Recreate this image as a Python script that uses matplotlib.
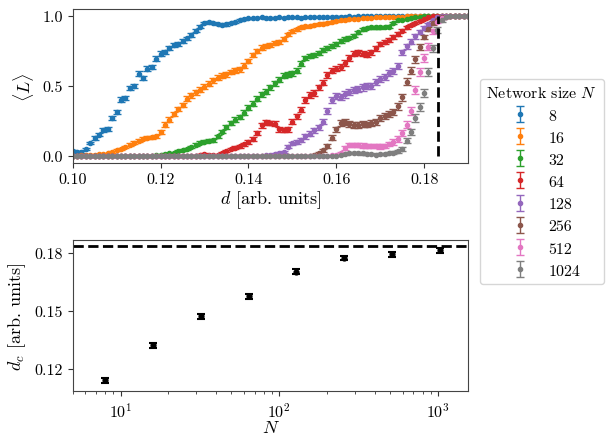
import numpy as np
import matplotlib
matplotlib.use("Agg")
import matplotlib.pyplot as plt

plt.rcParams.update({
    "font.family": "serif",
    "font.serif": ["cmr10", "DejaVu Serif"],
    "mathtext.fontset": "cm",
    "axes.formatter.use_mathtext": True,
    "font.size": 11,
    "axes.labelsize": 13,
    "xtick.labelsize": 11.5,
    "ytick.labelsize": 11.5,
    "legend.fontsize": 11.5,
    "legend.title_fontsize": 11.5,
    "axes.edgecolor": "#444444",
    "xtick.color": "#333333",
    "ytick.color": "#333333",
    "xtick.labelcolor": "black",
    "ytick.labelcolor": "black",
})

# ---------------- data ----------------
d = np.round(np.arange(0.100, 0.1905, 0.001), 3)   # 91 grid points

sizes = [8, 16, 32, 64, 128, 256, 512, 1024]
colors = ["tab:blue", "tab:orange", "tab:green", "tab:red",
          "tab:purple", "tab:brown", "tab:pink", "tab:gray"]

L8 = [0.035, 0.028, 0.030, 0.052, 0.093, 0.128, 0.152, 0.183, 0.195, 0.271, 0.314,
      0.402, 0.414, 0.486, 0.500, 0.588, 0.557, 0.624, 0.636, 0.695, 0.731,
      0.745, 0.770, 0.795, 0.800, 0.820, 0.840, 0.865, 0.895, 0.925, 0.950,
      0.958, 0.952, 0.945, 0.936, 0.940, 0.950, 0.960, 0.970, 0.978, 0.983,
      0.985, 0.987, 0.990, 0.985, 0.983, 0.988, 0.990, 0.988, 0.990, 0.992,
      0.990, 0.988, 0.990, 0.993, 0.995, 0.993, 0.990, 0.993, 0.995, 0.995,
      0.996, 0.995, 0.997, 0.996, 0.997, 0.998, 0.998, 0.999, 0.998, 0.999,
      0.999] + [1.0] * 19
L16 = [0.0, 0.003, 0.005, 0.005, 0.008, 0.010, 0.012, 0.015, 0.020, 0.030, 0.040,
       0.050, 0.065, 0.080, 0.095, 0.110, 0.125, 0.130, 0.133, 0.140, 0.170,
       0.225, 0.260, 0.300, 0.335, 0.365, 0.410, 0.435, 0.455, 0.475, 0.495,
       0.515, 0.540, 0.560, 0.572, 0.585, 0.600, 0.612, 0.620, 0.645, 0.680,
       0.720, 0.750, 0.775, 0.785, 0.790, 0.805, 0.815, 0.835, 0.870, 0.890,
       0.905, 0.918, 0.926, 0.930, 0.936, 0.942, 0.946, 0.950, 0.957, 0.963,
       0.968, 0.972, 0.976, 0.980, 0.982, 0.984, 0.986, 0.988, 0.990, 0.990,
       0.992, 0.993, 0.994, 0.995, 0.996, 0.997, 0.998, 0.999] + [1.0] * 12
L32 = [0.0] * 19 + \
      [0.005, 0.010, 0.015, 0.020, 0.025, 0.035, 0.040, 0.050, 0.065, 0.080, 0.095, 0.102,
       0.108, 0.112, 0.140, 0.175, 0.210, 0.235, 0.260, 0.280, 0.310, 0.345,
       0.375, 0.410, 0.440, 0.460, 0.490, 0.520, 0.545, 0.575, 0.585, 0.590,
       0.610, 0.660, 0.700, 0.715, 0.720, 0.735, 0.755, 0.770, 0.785, 0.800,
       0.820, 0.835, 0.845, 0.860, 0.885, 0.905, 0.915, 0.918, 0.918, 0.920,
       0.922, 0.925, 0.950, 0.970, 0.975, 0.978, 0.985, 0.990, 0.995] + [1.0] * 11
L64 = [0.0] * 29 + \
      [0.010, 0.015, 0.010, 0.005, 0.010, 0.020, 0.035, 0.050, 0.060, 0.070, 0.085, 0.100,
       0.120, 0.165, 0.220, 0.240, 0.235, 0.230, 0.190, 0.185, 0.190, 0.245,
       0.285, 0.330, 0.400, 0.435, 0.450, 0.490, 0.525, 0.580, 0.610, 0.625,
       0.635, 0.665, 0.700, 0.730, 0.740, 0.730, 0.725, 0.740, 0.770, 0.800,
       0.815, 0.830, 0.850, 0.870, 0.895, 0.920, 0.935, 0.950, 0.965, 0.980, 0.990] + [1.0] * 9
L128 = [0.0] * 44 + \
       [0.005, 0.010, 0.015, 0.020, 0.030, 0.065, 0.090,
        0.098, 0.115, 0.140, 0.160, 0.185, 0.205, 0.245, 0.320, 0.400, 0.430,
        0.420, 0.440, 0.455, 0.470, 0.480, 0.490, 0.498, 0.500, 0.530, 0.550,
        0.565, 0.590, 0.610, 0.640, 0.740, 0.785, 0.815, 0.855, 0.885, 0.915,
        0.940, 0.970, 0.990] + [1.0] * 7
L256 = [0.0] * 55 + \
       [0.010, 0.020, 0.040, 0.070, 0.130, 0.190,
        0.235, 0.240, 0.230, 0.222, 0.220, 0.228, 0.225, 0.235, 0.245, 0.270,
        0.285, 0.300, 0.315, 0.355, 0.420, 0.530, 0.610, 0.690, 0.780, 0.850,
        0.910, 0.950, 0.975, 0.990, 0.995] + [1.0] * 5
L512 = [0.0] * 59 + \
       [0.005, 0.010, 0.020, 0.060, 0.080, 0.080, 0.078, 0.075, 0.072, 0.070, 0.070, 0.068,
        0.072, 0.085, 0.100, 0.120, 0.165, 0.225, 0.320, 0.470, 0.600, 0.700,
        0.780, 0.890, 0.960, 0.985, 0.995] + [1.0] * 5
L1024 = [0.0] * 61 + \
        [0.010, 0.015, 0.020, 0.020, 0.020, 0.018, 0.015, 0.012, 0.010, 0.012,
         0.015, 0.020, 0.025, 0.035, 0.050, 0.110, 0.170, 0.270, 0.350, 0.450,
         0.600, 0.770, 0.900, 0.970, 0.990] + [1.0] * 5

series = [L8, L16, L32, L64, L128, L256, L512, L1024]
err_scale = [0.035, 0.035, 0.035, 0.040, 0.045, 0.050, 0.060, 0.060]

d_inf = 0.1832
N_vals = [8, 16, 32, 64, 128, 256, 512, 1024]
dc = [0.1142, 0.1321, 0.1472, 0.1574, 0.1702, 0.1772, 0.1791, 0.1811]
dc_err = [0.0013, 0.0012, 0.0012, 0.0012, 0.0012, 0.0012, 0.0012, 0.0012]

# ---------------- figure ----------------
W, H = 606, 435
fig = plt.figure(figsize=(W / 100, H / 100), dpi=100)
ax1 = fig.add_axes([72.7 / W, 1 - 164 / H, (468 - 72.7) / W, (164 - 10) / H])
ax2 = fig.add_axes([72.7 / W, 1 - 392 / H, (468.3 - 72.7) / W, (392 - 241) / H])

for N, L, c, s in zip(sizes, series, colors, err_scale):
    L = np.asarray(L)
    err = s * np.sqrt(np.clip(L * (1 - L), 0, None))
    ax1.errorbar(d, L, yerr=err, fmt=".", color=c, ms=6, capsize=3,
                 elinewidth=1, capthick=1, label=str(N))
ax1.vlines(d_inf, 0, 1, colors="k", linestyles="--", lw=2, zorder=5)
ax1.set_xlim(0.10, 0.19)
ax1.set_ylim(-0.05, 1.05)
ax1.set_xticks([0.10, 0.12, 0.14, 0.16, 0.18])
ax1.set_xticklabels(["0.10", "0.12", "0.14", "0.16", "0.18"])
ax1.set_yticks([0.0, 0.5, 1.0])
ax1.set_yticklabels(["0.0", "0.5", "1.0"])
ax1.set_xlabel(r"$d$ [arb. units]", labelpad=1)
ax1.set_ylabel(r"$\langle L\rangle$", labelpad=5)

ax2.set_xscale("log")
ax2.errorbar(N_vals, dc, yerr=dc_err, fmt=".", color="k", ms=7, capsize=3,
             elinewidth=1.5, capthick=1.5)
ax2.axhline(d_inf, color="k", ls="--", lw=2)
ax2.set_xlim(5, 1550)
ax2.set_ylim(0.1086, 0.1865)
ax2.set_yticks([0.12, 0.15, 0.18])
ax2.set_yticklabels(["0.12", "0.15", "0.18"])
ax2.set_xlabel(r"$N$", labelpad=0)
ax2.set_ylabel(r"$d_c$ [arb. units]", labelpad=5)

handles, labels = ax1.get_legend_handles_labels()
fig.legend(handles, labels, title=r"Network size $N$", loc="upper left",
           bbox_to_anchor=(480 / W, 1 - 80 / H), borderaxespad=0)

fig.savefig("out.png", dpi=100)
